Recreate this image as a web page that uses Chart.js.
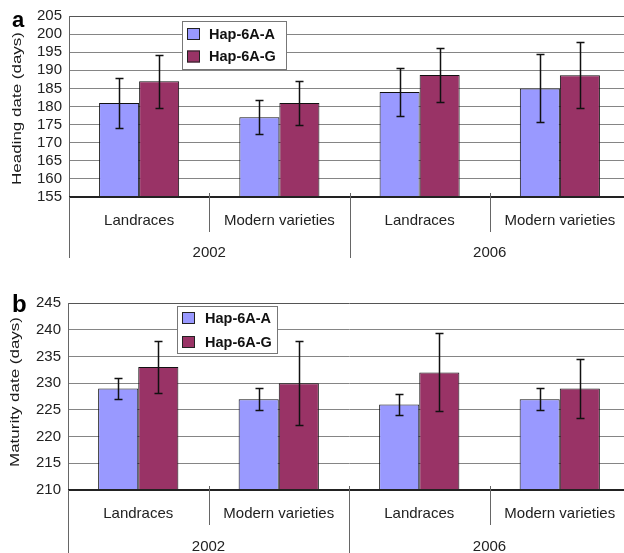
<!DOCTYPE html>
<html><head><meta charset="utf-8">
<script src="https://cdn.jsdelivr.net/npm/chart.js@4/dist/chart.umd.min.js"></script>
<style>
html,body{margin:0;padding:0;background:#fff;overflow:hidden;width:624px;height:553px}
#wa{position:absolute;left:0;top:0;width:632px;height:268px}
#wb{position:absolute;left:0;top:268px;width:632px;height:285px}
</style></head><body>
<div id="wa"><canvas id="ca" width="632" height="268"></canvas></div>
<div id="wb"><canvas id="cb" width="632" height="285"></canvas></div>
<script>
// ---- data ----
const categories = ['Landraces', 'Modern varieties', 'Landraces', 'Modern varieties'];
const categoryYears = ['2002', '2002', '2006', '2006'];
const seriesNames = ['Hap-6A-A', 'Hap-6A-G'];
const headingA = [181, 177, 184, 185];
const headingAErr = [7, 4.7, 6.5, 9.4];
const headingG = [187, 181, 188.7, 188.6];
const headingGErr = [7.3, 6.1, 7.4, 9.1];
const maturityA = [229, 227, 226, 227];
const maturityAErr = [2, 2, 2, 2];
const maturityG = [233, 230, 232, 229];
const maturityGErr = [4.9, 7.9, 7.3, 5.5];
const headingRange = [155, 205];
const maturityRange = [210, 245];
const tickStep = 5;
const titles = ['Heading date (days)', 'Maturity date (days)'];
const panelLetters = ['a', 'b'];

const BLUE = '#9999FF', RED = '#993366';
const FONT = '"Liberation Sans", Arial, sans-serif';

const decor = {
  id: 'decor',
  afterDatasetsDraw(chart, args, o) {
    const ctx = chart.ctx, y = chart.scales.y;
    ctx.save();
    ctx.strokeStyle = '#111'; ctx.lineWidth = 1.5;
    chart.data.datasets.forEach((ds, i) => {
      chart.getDatasetMeta(i).data.forEach((el, j) => {
        const v = ds.data[j], e = ds.errors[j];
        const yt = Math.round(y.getPixelForValue(v + e)) + 0.5;
        const yb = Math.round(y.getPixelForValue(v - e)) + 0.5;
        const xx = Math.round(el.x) + 0.5;
        ctx.beginPath();
        ctx.moveTo(xx, yt); ctx.lineTo(xx, yb);
        ctx.moveTo(xx - 4, yt); ctx.lineTo(xx + 4, yt);
        ctx.moveTo(xx - 4, yb); ctx.lineTo(xx + 4, yb);
        ctx.stroke();
      });
    });
    ctx.restore();
  },
  afterDraw(chart, args, o) {
    const ctx = chart.ctx, x = chart.scales.x, ca = chart.chartArea;
    ctx.save();
    // bottom axis
    ctx.strokeStyle = '#222'; ctx.lineWidth = 2;
    ctx.beginPath(); ctx.moveTo(ca.left, ca.bottom); ctx.lineTo(ca.right, ca.bottom); ctx.stroke();
    // separators
    const half = (x.getPixelForValue(1) - x.getPixelForValue(0)) / 2;
    ctx.strokeStyle = '#666'; ctx.lineWidth = 1;
    const line = (px, y0, y1) => { const xx = Math.round(px) + 0.5; ctx.beginPath(); ctx.moveTo(xx, y0); ctx.lineTo(xx, y1); ctx.stroke(); };
    line(ca.left, ca.bottom, ca.bottom + o.longEnd);
    for (let i = 1; i < categories.length; i++) {
      const bx = x.getPixelForValue(i) - half;
      if (categoryYears[i] !== categoryYears[i - 1]) line(bx, ca.bottom - 4, ca.bottom + o.longEnd);
      else line(bx, ca.bottom - 4, ca.bottom + o.shortEnd);
    }
    // category labels
    ctx.fillStyle = '#222'; ctx.textAlign = 'center'; ctx.textBaseline = 'middle';
    ctx.font = '15px ' + FONT;
    categories.forEach((c, i) => ctx.fillText(c, x.getPixelForValue(i), ca.bottom + o.labelY));
    // year labels
    const years = [...new Set(categoryYears)];
    years.forEach(yr => {
      const idx = categoryYears.map((v, i) => v === yr ? i : -1).filter(i => i >= 0);
      const l = x.getPixelForValue(idx[0]) - half, r = x.getPixelForValue(idx[idx.length - 1]) + half;
      ctx.fillText(yr, (l + r) / 2, ca.bottom + o.yearY);
    });
    // legend
    const L = o.legend;
    ctx.fillStyle = '#fff'; ctx.fillRect(L.x, L.y, L.w, L.h);
    ctx.strokeStyle = '#777'; ctx.lineWidth = 1;
    ctx.strokeRect(L.x + 0.5, L.y + 0.5, L.w, L.h);
    chart.data.datasets.forEach((ds, i) => {
      const sy = L.y + L.sy + i * L.gap;
      ctx.fillStyle = ds.backgroundColor; ctx.fillRect(L.x + 5, sy, 13, 12);
      ctx.strokeStyle = '#222'; ctx.strokeRect(L.x + 5.5, sy + 0.5, 12, 11);
      ctx.fillStyle = '#111'; ctx.font = 'bold 14.5px ' + FONT; ctx.textAlign = 'left';
      ctx.fillText(ds.label, L.x + L.tx, sy + 6.5);
    });
    // panel letter
    ctx.fillStyle = '#000'; ctx.font = 'bold ' + o.letterSize + 'px ' + FONT; ctx.textAlign = 'left'; ctx.textBaseline = 'alphabetic';
    ctx.fillText(o.letter, 12, o.letterY);
    // y title
    ctx.save();
    ctx.translate(o.titleX, o.titleY); ctx.rotate(-Math.PI / 2);
    ctx.font = '13.5px ' + FONT; ctx.textAlign = 'center'; ctx.textBaseline = 'middle';
    const w = ctx.measureText(o.title).width;
    ctx.scale(o.titleLen / w, 1);
    ctx.fillStyle = '#1a1a1a'; ctx.fillText(o.title, 0, 0);
    ctx.restore();
    ctx.restore();
  }
};

function makeChart(id, aVals, aErr, gVals, gErr, range, cfg) {
  return new Chart(document.getElementById(id), {
    type: 'bar',
    data: {
      labels: categories,
      datasets: [
        { label: seriesNames[0], data: aVals, errors: aErr, backgroundColor: BLUE, borderColor: '#111', borderWidth: 1 },
        { label: seriesNames[1], data: gVals, errors: gErr, backgroundColor: RED, borderColor: '#111', borderWidth: 1 }
      ]
    },
    options: {
      responsive: false, animation: false, devicePixelRatio: 1,
      layout: { padding: { left: 0, right: 2, top: cfg.top, bottom: cfg.bottom } },
      datasets: { bar: { categoryPercentage: 0.571, barPercentage: 1 } },
      plugins: { legend: { display: false }, tooltip: { enabled: false }, decor: cfg.decor },
      scales: {
        x: { display: false },
        y: {
          min: range[0], max: range[1],
          afterFit: s => { s.width = cfg.axisW; },
          ticks: { stepSize: tickStep, autoSkip: false, padding: 7, color: '#222', font: { size: 15, family: FONT } },
          grid: {
            drawTicks: false,
            color: c => c.tick && c.tick.value === range[1] ? '#555' : '#858585',
            lineWidth: 1
          },
          border: { display: true, color: '#666', width: 1 }
        }
      }
    },
    plugins: [decor]
  });
}

makeChart('ca', headingA, headingAErr, headingG, headingGErr, headingRange, {
  top: 16, bottom: 71, axisW: 69,
  decor: { labelY: 24, yearY: 56, shortEnd: 35, longEnd: 61,
    legend: { x: 182, y: 21, w: 104, h: 48, sy: 7, gap: 22.5, tx: 27 },
    letter: panelLetters[0], letterSize: 22, letterY: 27,
    title: titles[0], titleX: 17, titleY: 108.5, titleLen: 153 }
});
makeChart('cb', maturityA, maturityAErr, maturityG, maturityGErr, maturityRange, {
  top: 35, bottom: 63, axisW: 68,
  decor: { labelY: 23.5, yearY: 57, shortEnd: 35, longEnd: 70,
    legend: { x: 177, y: 38, w: 100, h: 47, sy: 6, gap: 24, tx: 28 },
    letter: panelLetters[1], letterSize: 24, letterY: 44,
    title: titles[1], titleX: 15, titleY: 124, titleLen: 150 }
});
</script>
</body></html>
